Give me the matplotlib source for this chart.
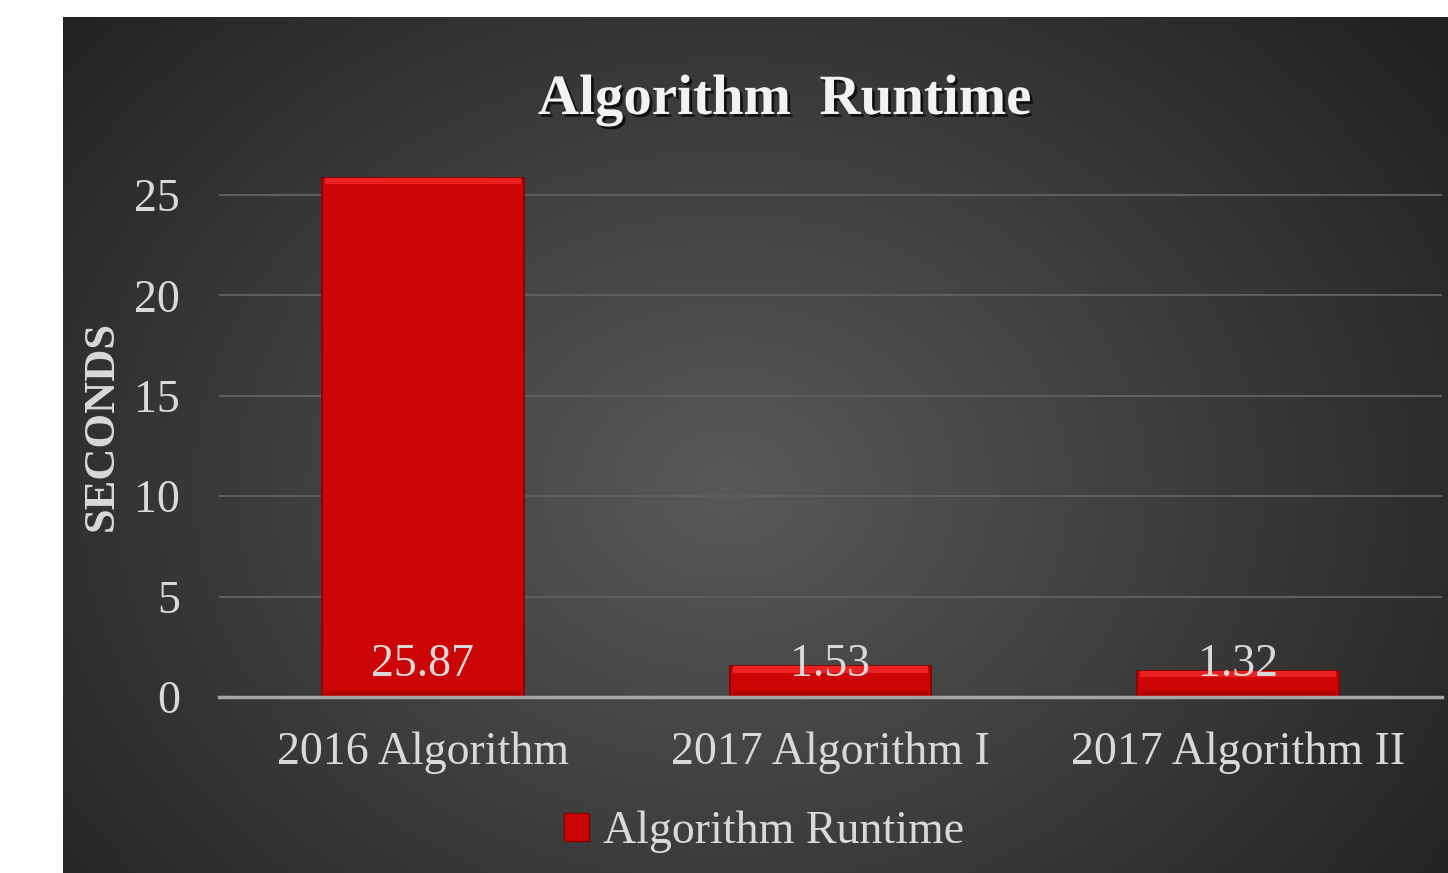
import numpy as np
import matplotlib
matplotlib.use('Agg')
import matplotlib.pyplot as plt
import matplotlib.patheffects as pe

categories = ['2016 Algorithm', '2017 Algorithm I', '2017 Algorithm II']
runtimes = [25.87, 1.53, 1.32]
label_texts = ['25.87', '1.53', '1.32']
yticks = [0, 5, 10, 15, 20, 25]

txt = '#d9d9d9'
plt.rcParams['font.family'] = ['Liberation Serif', 'DejaVu Serif']

fig = plt.figure(figsize=(14.48, 8.73), dpi=100)
fig.patch.set_facecolor('white')

# dark gradient panel
bg = fig.add_axes((63 / 1448, 0, 1 - 63 / 1448, 856 / 873))
bg.set_axis_off()
yy, xx = np.mgrid[0:1:400j, 0:1:700j]
r = np.sqrt(((xx - 0.48) * 1.3) ** 2 + (yy - 0.45) ** 2)
shade = 0.35 - 0.22 * np.clip(r / 0.85, 0, 1)
bg.imshow(np.dstack([shade] * 3), aspect='auto', extent=(0, 1, 0, 1), origin='lower')
bg.set_xlim(0, 1)
bg.set_ylim(0, 1)

ax = fig.add_axes((219 / 1448, 176 / 873, 1223 / 1448, 532 / 873))
ax.patch.set_alpha(0)
x = np.arange(len(categories))
ax.bar(x, runtimes, width=0.495, color='#cc0606', edgecolor='#8a0000', linewidth=1.2, zorder=3)
# bevel highlight on top and shade on bottom
ax.bar(x, 0.32, bottom=np.array(runtimes) - 0.32, width=0.48, color='#ec2222',
       edgecolor='none', zorder=4)
ax.bar(x, 0.3, bottom=0, width=0.48, color='#b20000', edgecolor='none', zorder=4)

for xi, t in zip(x, label_texts):
    ax.text(xi, 1.6, t, ha='center', va='center', color=txt, fontsize=33, zorder=5)

ax.set_xlim(-0.5, 2.5)
ax.set_ylim(0, 26.5)
ax.set_yticks(yticks)
ax.set_xticks(x)
ax.set_xticklabels(categories)
ax.tick_params(axis='both', length=0, colors=txt, labelsize=33)
ax.tick_params(axis='y', pad=28)
ax.tick_params(axis='x', pad=25)
ax.grid(axis='y', color='#5e5e5e', linewidth=1.5, zorder=0)
for s in ['top', 'right', 'left']:
    ax.spines[s].set_visible(False)
ax.spines['bottom'].set_color('#a6a6a6')
ax.spines['bottom'].set_linewidth(2.5)
ax.spines['bottom'].set_zorder(6)

fig.text(102 / 1448, 1 - 426 / 873, 'SECONDS', rotation=90, ha='center', va='center',
         color=txt, fontsize=32, fontweight='bold')

fig.text(785 / 1448, 1 - 100 / 873, 'Algorithm  Runtime', ha='center', va='center',
         color='#f2f2f2', fontsize=41, fontweight='bold',
         path_effects=[pe.SimplePatchShadow(offset=(2, -2), shadow_rgbFace='black', alpha=0.7),
                       pe.Normal()])

# legend
handle = plt.Rectangle((0, 0), 1, 1, facecolor='#cc0606', edgecolor='#8a0000')
leg = fig.legend([handle], ['Algorithm Runtime'], loc='center', bbox_to_anchor=(764 / 1448, 1 - 832 / 873),
                 frameon=False, fontsize=33, handlelength=0.55, handleheight=0.55, handletextpad=0.3,
                 labelcolor=txt)

fig.savefig('out.png', dpi=100)
